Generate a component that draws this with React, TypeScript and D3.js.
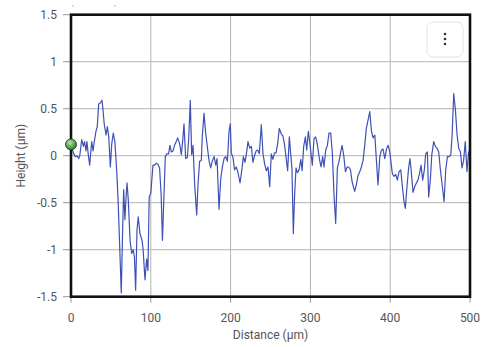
import React from "react";
import * as d3 from "d3";

const distances: number[] = [
  0, 3, 5.4, 7.5, 9.6, 11, 13.4, 15.5, 17, 18.8, 20, 21.8, 23.4, 24.6, 26, 27.6, 29.2, 31.3, 32.9, 34.7,
  36.8, 38.8, 40, 41.6, 43.9, 45.6, 47.3, 49.3, 51, 53, 55, 57.2, 59, 60.6, 63, 64.7, 66, 67.6, 69, 70.2,
  71.8, 74, 76, 78, 79.5, 81, 82.7, 84.3, 86.4, 89, 90.4, 92.7, 94.8, 96.4, 98, 100, 102.7, 104.8, 106.9, 109,
  111, 113, 114.6, 116.5, 118.2, 120, 122.3, 124, 125.7, 127.7, 129.8, 131.9, 133.6, 135.3, 136.5, 138.2, 140, 141.6, 143.7, 145.8,
  147.5, 149.5, 151.2, 152.9, 155, 157.5, 159.2, 161.2, 163.3, 164.5, 166.7, 168.8, 170.9, 172.9, 175, 177, 179.3, 181.4, 183, 185.5,
  187.6, 189.7, 191.8, 193.9, 196, 198, 199.6, 200.9, 203, 205, 207, 209, 211.8, 213.8, 216, 218, 220, 221.8, 224, 226,
  228, 230, 232, 234, 236, 238.5, 240.6, 242.7, 244.8, 246.9, 249, 251, 253, 255, 257, 259, 261, 263.6, 265.6, 267.7,
  269.8, 271.5, 273.6, 275.2, 276.9, 278.6, 280.3, 282, 283.7, 285.8, 288, 289.6, 291.6, 293.7, 295.4, 297.4, 299.5, 302.4, 304.5, 306.6,
  308.7, 311.2, 313.3, 315.4, 317, 319.2, 321.3, 323.3, 325.4, 327.5, 329.6, 331.7, 333.8, 335.9, 338, 339.7, 341.8, 343.9, 346, 348,
  350.2, 352.3, 355.5, 357.6, 359.7, 361.8, 363.9, 366, 368.1, 370.1, 372.3, 374.4, 376.5, 378.6, 380.7, 382.8, 384.7, 387, 389, 391,
  393.2, 395.3, 397.4, 399.5, 402.7, 404.8, 406.9, 409, 411.1, 413.2, 415.3, 417.3, 419, 421, 423.2, 424.8, 426.5, 428.6, 430.7, 432.8,
  434.8, 437, 438.6, 440.7, 442.8, 444.5, 446.6, 448.2, 450.3, 452, 454.5, 456.6, 458.7, 460.8, 462.9, 465.4, 467.5, 469.6, 471.7, 473.8,
  475.9, 477.6, 479.6, 481.7, 483.8, 485.9, 488, 490, 492, 494.1, 496.2, 498.3, 500,
];

const heights: number[] = [
  0.12, 0.03, -0.01, 0.0, -0.03, 0.0, 0.17, 0.1, 0.15, 0.05, 0.15, 0.0, -0.1, 0.02, 0.15, 0.05, 0.15, 0.26, 0.31, 0.55,
  0.56, 0.59, 0.5, 0.34, 0.22, 0.31, 0.2, -0.12, 0.12, 0.24, 0.15, -0.15, -0.47, -0.86, -1.46, -0.79, -0.36, -0.68, -0.44, -0.29,
  -0.47, -0.9, -1.04, -1.0, -1.08, -1.43, -0.79, -0.65, -0.83, -0.9, -1.0, -1.32, -1.1, -1.22, -0.44, -0.4, -0.1, -0.1, -0.08, -0.09,
  -0.13, -0.42, -0.9, -0.42, -0.01, 0.02, 0.02, 0.11, 0.04, 0.05, 0.11, 0.15, 0.19, 0.15, 0.11, 0.01, 0.16, 0.34, -0.03, -0.02,
  0.18, 0.59, 0.01, 0.11, -0.31, -0.63, -0.3, -0.06, -0.05, 0.2, 0.45, 0.24, 0.09, -0.05, -0.13, -0.06, -0.01, -0.1, -0.03, -0.57,
  -0.25, -0.12, -0.03, -0.01, -0.06, 0.26, 0.34, 0.03, -0.02, -0.15, -0.12, -0.17, -0.29, -0.17, -0.01, -0.07, 0.03, 0.15, 0.08, 0.1,
  -0.07, 0.0, 0.05, 0.06, 0.02, 0.33, 0.02, -0.09, -0.16, -0.12, -0.33, 0.02, -0.04, 0.03, 0.03, 0.13, 0.29, 0.23, 0.21, 0.11,
  -0.04, -0.16, 0.2, 0.03, -0.14, -0.83, -0.4, -0.13, -0.18, -0.15, -0.04, -0.16, 0.1, 0.2, 0.06, 0.26, 0.12, -0.1, 0.18, 0.2,
  0.12, -0.03, -0.12, -0.01, -0.12, 0.06, 0.11, 0.24, 0.24, 0.03, -0.42, -0.72, -0.13, -0.06, 0.04, 0.11, 0.0, -0.17, -0.12, -0.12,
  -0.15, -0.28, -0.38, -0.31, -0.21, -0.17, -0.12, -0.05, 0.11, 0.29, 0.38, 0.47, 0.26, 0.19, 0.22, -0.06, -0.31, -0.01, 0.06, 0.07,
  -0.03, 0.07, 0.11, 0.04, -0.19, -0.22, -0.2, -0.26, -0.17, -0.15, -0.33, -0.49, -0.56, -0.33, -0.12, -0.03, -0.18, -0.39, -0.33, -0.29,
  -0.26, -0.18, -0.1, -0.26, -0.15, 0.02, 0.04, -0.44, -0.26, 0.0, 0.15, 0.1, 0.08, 0.04, -0.15, -0.33, -0.49, -0.15, -0.01, -0.01,
  0.01, 0.22, 0.66, 0.49, 0.22, 0.08, 0.04, -0.13, -0.05, 0.15, -0.17, 0.04, -0.02,
];

const xTicks: number[] = [0, 100, 200, 300, 400, 500];
const yTicks: number[] = [-1.5, -1, -0.5, 0, 0.5, 1, 1.5];
const xTitle = "Distance (µm)";
const yTitle = "Height (µm)";

export default function App() {
  const W = 487;
  const H = 347;
  const x = d3.scaleLinear().domain([0, 500]).range([71, 470]);
  const y = d3.scaleLinear().domain([-1.5, 1.5]).range([296.7, 14.7]);
  const pts: [number, number][] = distances.map((d, i) => [d, heights[i]]);
  const line = d3
    .line<[number, number]>()
    .x((p) => x(p[0]))
    .y((p) => y(p[1]))(pts);
  const font = "Roboto, 'Noto Sans', sans-serif";
  const [x0, x1] = x.range();
  const [yb, yt] = y.range();
  return (
    <svg
      width={W}
      height={H}
      style={{ position: "absolute", left: 0, top: 0, background: "#fff" }}
      fontFamily={font}
    >
      <defs>
        <radialGradient id="gball" cx="40%" cy="35%" r="65%">
          <stop offset="0%" stopColor="#b8e6b0" />
          <stop offset="55%" stopColor="#5fae5a" />
          <stop offset="100%" stopColor="#2f7a2e" />
        </radialGradient>
      </defs>
      <rect x={0} y={0} width={W} height={H} fill="#fff" />
      <circle cx={73} cy={6} r={0.8} fill="#aaa" />
      <circle cx={115} cy={6} r={0.8} fill="#aaa" />
      {/* grid */}
      {xTicks.map((t) => (
        <line key={"gx" + t} x1={x(t)} x2={x(t)} y1={yt} y2={yb} stroke="#b4b4b4" strokeWidth={1} />
      ))}
      {yTicks.map((t) => (
        <line key={"gy" + t} x1={x0} x2={x1} y1={y(t)} y2={y(t)} stroke="#b4b4b4" strokeWidth={1} />
      ))}
      {/* ticks */}
      {xTicks.map((t) => (
        <line key={"tx" + t} x1={x(t)} x2={x(t)} y1={yb} y2={yb + 6} stroke="#999" strokeWidth={1} />
      ))}
      {yTicks.map((t) => (
        <line key={"ty" + t} x1={x0 - 8} x2={x0} y1={y(t)} y2={y(t)} stroke="#999" strokeWidth={1} />
      ))}
      {/* labels */}
      {xTicks.map((t) => (
        <text key={"lx" + t} x={x(t)} y={322} textAnchor="middle" fontSize={12} fill="#555">
          {String(t)}
        </text>
      ))}
      {yTicks.map((t) => (
        <text key={"ly" + t} x={57} y={y(t)} dy="0.35em" textAnchor="end" fontSize={12} fill="#555">
          {String(t)}
        </text>
      ))}
      <text x={(x0 + x1) / 2} y={339} textAnchor="middle" fontSize={12} fill="#555">
        {xTitle}
      </text>
      <text
        transform={`translate(25,${(yt + yb) / 2}) rotate(-90)`}
        textAnchor="middle"
        fontSize={12}
        fill="#555"
      >
        {yTitle}
      </text>
      {/* data line */}
      <path d={line || ""} fill="none" stroke="#3f51b5" strokeWidth={1.2} strokeLinejoin="round" />
      {/* frame */}
      <rect x={x0} y={yt} width={x1 - x0} height={yb - yt} fill="none" stroke="#111" strokeWidth={2.6} />
      {/* marker */}
      <circle cx={x(distances[0])} cy={y(heights[0])} r={5.5} fill="url(#gball)" stroke="#2a2a2a" strokeWidth={0.8} />
      {/* menu button */}
      <rect x={427} y={22} width={36} height={35} rx={6} fill="#fff" stroke="#e2e2e2" strokeWidth={1} />
      {[34, 39, 44].map((cy) => (
        <circle key={"d" + cy} cx={445} cy={cy} r={1.3} fill="#333" />
      ))}
    </svg>
  );
}
